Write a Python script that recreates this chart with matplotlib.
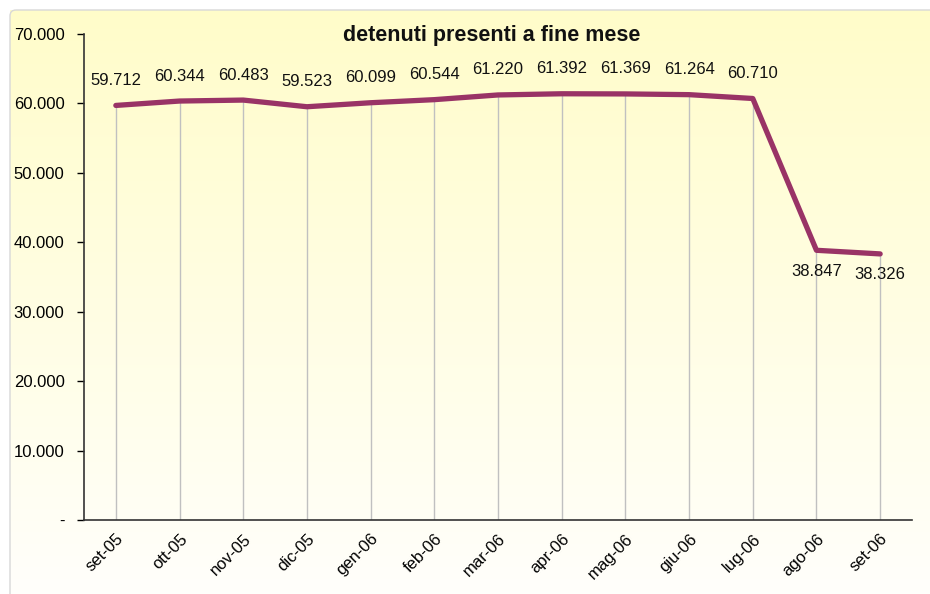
import numpy as np
import matplotlib.pyplot as plt
from matplotlib.patches import FancyBboxPatch
from matplotlib.ticker import FixedLocator

plt.rcParams["font.family"] = ["Liberation Sans", "DejaVu Sans"]

months = ["set-05", "ott-05", "nov-05", "dic-05", "gen-06", "feb-06", "mar-06",
          "apr-06", "mag-06", "giu-06", "lug-06", "ago-06", "set-06"]
detenuti = [59712, 60344, 60483, 59523, 60099, 60544, 61220,
            61392, 61369, 61264, 60710, 38847, 38326]
y_ticks = [0, 10000, 20000, 30000, 40000, 50000, 60000, 70000]
y_labels = ["-", "10.000", "20.000", "30.000", "40.000", "50.000", "60.000", "70.000"]
label_below = ["ago-06", "set-06"]

fig = plt.figure(figsize=(9.3, 5.94), dpi=100)

# background panel with yellow gradient
bg = fig.add_axes([0, 0, 1, 1], zorder=-10)
bg.set_xlim(0, 930)
bg.set_ylim(594, 0)
bg.axis("off")
grad = np.linspace(0, 1, 256).reshape(-1, 1)
top = np.array([1.0, 0.99, 0.79])
bot = np.array([1.0, 1.0, 0.985])
img = top[None, None, :] * (1 - grad[..., None]) + bot[None, None, :] * grad[..., None]
bg.imshow(img, extent=[10, 930, 594, 10], aspect="auto", zorder=0)
frame = FancyBboxPatch((10, 10), 940, 600, boxstyle="round,pad=0,rounding_size=6",
                       fill=False, edgecolor="#d8d8d8", lw=1.0, zorder=1)
bg.add_patch(frame)

ax = fig.add_axes([84 / 930, 1 - 520 / 594, (912 - 84) / 930, (520 - 34) / 594])
ax.patch.set_alpha(0)
x = np.arange(len(months))

for xi, v in zip(x, detenuti):
    ax.plot([xi, xi], [0, v], color="#c0c0c0", lw=1.0, zorder=1)
ax.plot(x, detenuti, color="#993366", lw=3.8, solid_capstyle="round",
        solid_joinstyle="round", zorder=3)

for xi, m, v in zip(x, months, detenuti):
    txt = f"{v:,}".replace(",", ".")
    dy = -15 if m in label_below else 18
    ax.annotate(txt, (xi, v), xytext=(0, dy), textcoords="offset points",
                ha="center", va="center", fontsize=12, color="#111111")

ax.set_xlim(-0.5, 12.5)
ax.set_ylim(0, 70000)
ax.yaxis.set_major_locator(FixedLocator(y_ticks))
ax.set_yticklabels(y_labels, fontsize=12)
ax.set_xticks(x)
ax.set_xticklabels(months, rotation=45, ha="right", rotation_mode="anchor",
                   fontsize=12)
ax.tick_params(axis="x", length=0, pad=8)
ax.tick_params(axis="y", length=5, width=1, pad=9)
for s in ["top", "right"]:
    ax.spines[s].set_visible(False)
ax.spines["left"].set_color("#333333")
ax.spines["bottom"].set_color("#333333")
ax.spines["left"].set_linewidth(1.2)
ax.spines["bottom"].set_linewidth(1.2)

fig.text(492 / 930, 1 - 36 / 594, "detenuti presenti a fine mese", ha="center",
         va="center", fontsize=15.5, fontweight="bold", color="#111111")

fig.savefig("out.png", dpi=100)
